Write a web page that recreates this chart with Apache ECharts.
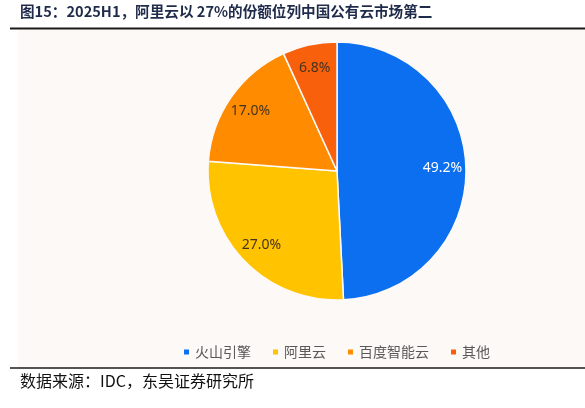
<!DOCTYPE html>
<html style="height: 100%">
<head>
  <meta charset="utf-8">
  <title>2025H1 中国公有云市场份额</title>
</head>
<body style="height: 100%; margin: 0; background: #ffffff">
<div id="container" style="width: 585px; height: 408px"></div>
<script type="text/javascript" src="https://cdn.jsdelivr.net/npm/echarts@6/dist/echarts.min.js"></script>
<script type="text/javascript">
  // 厂商与份额(%)
  let vendors = ['火山引擎', '阿里云', '百度智能云', '其他']
  let shares = [49.2, 27.0, 17.0, 6.8]
  let colors = ['#0b6ff0', '#ffc300', '#ff8c00', '#f8600c']
  let labelColors = ['#ffffff', '#45331f', '#45331f', '#45331f']

  let titleText = '图15：2025H1，阿里云以 27%的份额位列中国公有云市场第二'
  let sourceText = '数据来源：IDC，东吴证券研究所'

  let myChart = echarts.init(document.getElementById('container'))

  let pieData = vendors.map((name, i) => ({
    name: name,
    value: shares[i],
    itemStyle: { color: colors[i] }
  }))
  // 标签用透明外环来定位, 让文字靠近外沿
  let labelData = vendors.map((name, i) => ({
    name: name,
    value: shares[i],
    label: { color: labelColors[i] }
  }))

  let option = {
    animation: false,
    graphic: [
      { type: 'rect', z: -10, shape: { x: 18, y: 30, width: 567, height: 337 }, style: { fill: '#fdf9f6' } },
      { type: 'line', shape: { x1: 10, y1: 28.5, x2: 585, y2: 28.5 }, style: { stroke: '#1a1a1a', lineWidth: 2 } },
      { type: 'line', shape: { x1: 10, y1: 368, x2: 585, y2: 368 }, style: { stroke: '#1a1a1a', lineWidth: 1.5 } },
      {
        type: 'text', left: 20, top: 4,
        style: { text: titleText, fill: '#1f2b4a', font: 'bold 14.6px "Noto Sans CJK SC"' }
      },
      {
        type: 'text', left: 20, top: 373,
        style: { text: sourceText, fill: '#111111', font: '16px "Noto Sans CJK SC"' }
      }
    ],
    legend: {
      data: vendors,
      bottom: 44,
      left: 177,
      icon: 'rect',
      itemWidth: 7,
      itemHeight: 7,
      itemGap: 20,
      textStyle: { color: '#595959', fontSize: 14, fontFamily: 'Noto Sans CJK SC' }
    },
    series: [
      {
        type: 'pie',
        center: [337, 171],
        radius: [0, 129],
        startAngle: 90,
        clockwise: true,
        label: { show: false },
        labelLine: { show: false },
        itemStyle: { borderColor: '#fdf9f6', borderWidth: 1.5 },
        data: pieData
      },
      {
        type: 'pie',
        center: [337, 171],
        radius: [76, 129],
        startAngle: 90,
        clockwise: true,
        silent: true,
        itemStyle: { color: 'rgba(0,0,0,0)' },
        label: {
          show: true,
          position: 'inside',
          formatter: p => p.value.toFixed(1) + '%',
          fontSize: 14,
          fontFamily: 'Noto Sans'
        },
        labelLine: { show: false },
        data: labelData
      }
    ]
  }

  myChart.setOption(option, true)
</script>
</body>
</html>
